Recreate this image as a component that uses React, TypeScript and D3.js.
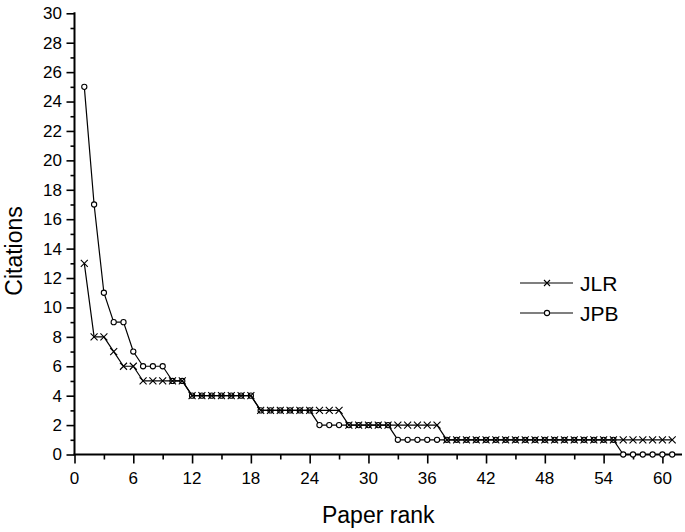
import React, { useEffect, useRef } from "react";
import * as d3 from "d3";

// Paper rank 1..61
const ranks: number[] = d3.range(1, 62);

const jlr: number[] = [
  13, 8, 8, 7, 6, 6, 5, 5, 5, 5, 5,
  4, 4, 4, 4, 4, 4, 4,
  3, 3, 3, 3, 3, 3, 3, 3, 3,
  2, 2, 2, 2, 2, 2, 2, 2, 2, 2,
  1, 1, 1, 1, 1, 1, 1, 1, 1, 1, 1, 1, 1, 1, 1, 1, 1, 1,
  1, 1, 1, 1, 1, 1, 1,
];

const jpb: number[] = [
  25, 17, 11, 9, 9, 7, 6, 6, 6, 5, 5,
  4, 4, 4, 4, 4, 4, 4,
  3, 3, 3, 3, 3, 3, 2, 2, 2,
  2, 2, 2, 2, 2, 1, 1, 1, 1, 1,
  1, 1, 1, 1, 1, 1, 1, 1, 1, 1, 1, 1, 1, 1, 1, 1, 1, 1,
  0, 0, 0, 0, 0, 0,
];

const xTicks: number[] = [0, 6, 12, 18, 24, 30, 36, 42, 48, 54, 60];
const yTicks: number[] = d3.range(0, 31, 2);

const font = "'Liberation Sans', Arial, sans-serif";

const App = () => {
  const svgRef = useRef<SVGSVGElement | null>(null);

  useEffect(() => {
    const svg = d3.select(svgRef.current);
    svg.selectAll("*").remove();

    const x = d3.scaleLinear().domain([0, 62]).range([74.5, 682]);
    const y = d3.scaleLinear().domain([0, 30]).range([454.5, 13.3]);

    // axes
    const axisY = svg
      .append("g")
      .attr("transform", `translate(${x(0)},0)`)
      .call(
        d3.axisLeft(y).tickValues(d3.range(0, 31, 1)).tickSize(0).tickFormat(() => "")
      );
    axisY.select(".domain").remove();
    axisY.selectAll(".tick").each(function (d: any) {
      d3.select(this)
        .append("line")
        .attr("x1", 0)
        .attr("x2", d % 2 === 0 ? -8 : -4)
        .attr("stroke", "#000")
        .attr("stroke-width", 1.6);
    });
    svg
      .append("g")
      .selectAll("text")
      .data(yTicks)
      .join("text")
      .attr("x", 62)
      .attr("y", (d) => y(d))
      .attr("dy", "0.35em")
      .attr("text-anchor", "end")
      .style("font-family", font)
      .style("font-size", "17px")
      .text((d) => d);

    const axisX = svg
      .append("g")
      .attr("transform", `translate(0,${y(0)})`)
      .call(
        d3.axisBottom(x).tickValues(d3.range(0, 62, 3)).tickSize(0).tickFormat(() => "")
      );
    axisX.select(".domain").remove();
    axisX.selectAll(".tick").each(function (d: any) {
      d3.select(this)
        .append("line")
        .attr("y1", 0)
        .attr("y2", d % 6 === 0 ? 9 : 5)
        .attr("stroke", "#000")
        .attr("stroke-width", 1.6);
    });
    svg
      .append("g")
      .selectAll("text")
      .data(xTicks)
      .join("text")
      .attr("x", (d) => x(d))
      .attr("y", 484)
      .attr("text-anchor", "middle")
      .style("font-family", font)
      .style("font-size", "17px")
      .text((d) => d);

    svg
      .append("line")
      .attr("x1", x(0))
      .attr("x2", x(0))
      .attr("y1", y(30) - 1)
      .attr("y2", y(0))
      .attr("stroke", "#000")
      .attr("stroke-width", 2);
    svg
      .append("line")
      .attr("x1", x(0) - 1)
      .attr("x2", x(62))
      .attr("y1", y(0))
      .attr("y2", y(0))
      .attr("stroke", "#000")
      .attr("stroke-width", 2);

    // axis titles
    svg
      .append("text")
      .attr("transform", `translate(22,251) rotate(-90)`)
      .attr("text-anchor", "middle")
      .style("font-family", font)
      .style("font-size", "23px")
      .text("Citations");
    svg
      .append("text")
      .attr("x", (x(0) + x(62)) / 2)
      .attr("y", 523)
      .attr("text-anchor", "middle")
      .style("font-family", font)
      .style("font-size", "23px")
      .text("Paper rank");

    const line = d3
      .line<number>()
      .x((_, i) => x(ranks[i]))
      .y((d) => y(d));

    const drawCross = (g: any, cx: number, cy: number, s: number) => {
      g.append("path")
        .attr(
          "d",
          `M${cx - s},${cy - s}L${cx + s},${cy + s}M${cx - s},${cy + s}L${cx + s},${cy - s}`
        )
        .attr("stroke", "#000")
        .attr("stroke-width", 1.1)
        .attr("fill", "none");
    };
    const drawCircle = (g: any, cx: number, cy: number, r: number) => {
      g.append("circle")
        .attr("cx", cx)
        .attr("cy", cy)
        .attr("r", r)
        .attr("fill", "#fff")
        .attr("stroke", "#000")
        .attr("stroke-width", 1.1);
    };

    // JLR
    const gJ = svg.append("g");
    gJ.append("path")
      .attr("d", line(jlr))
      .attr("fill", "none")
      .attr("stroke", "#000")
      .attr("stroke-width", 1.2);

    // JPB
    const gP = svg.append("g");
    gP.append("path")
      .attr("d", line(jpb))
      .attr("fill", "none")
      .attr("stroke", "#000")
      .attr("stroke-width", 1.2);

    jpb.forEach((v, i) => drawCircle(gP, x(ranks[i]), y(v), 2.6));
    jlr.forEach((v, i) => drawCross(gJ.raise(), x(ranks[i]), y(v), 3.5));

    // legend
    const legend = svg.append("g");
    const rows = [
      { name: "JLR", y: 283, kind: "x" },
      { name: "JPB", y: 313, kind: "o" },
    ];
    rows.forEach((r) => {
      legend
        .append("line")
        .attr("x1", 520)
        .attr("x2", 573)
        .attr("y1", r.y)
        .attr("y2", r.y)
        .attr("stroke", "#000")
        .attr("stroke-width", 1.2);
      if (r.kind === "x") drawCross(legend, 547, r.y, 3);
      else drawCircle(legend, 547, r.y, 2.6);
      legend
        .append("text")
        .attr("x", 580)
        .attr("y", r.y)
        .attr("dy", "0.36em")
        .style("font-family", font)
        .style("font-size", "21px")
        .text(r.name);
    });
  }, []);

  return (
    <svg
      ref={svgRef}
      width={685}
      height={532}
      style={{ position: "absolute", left: 0, top: 0, background: "#fff" }}
    />
  );
};

export default App;
